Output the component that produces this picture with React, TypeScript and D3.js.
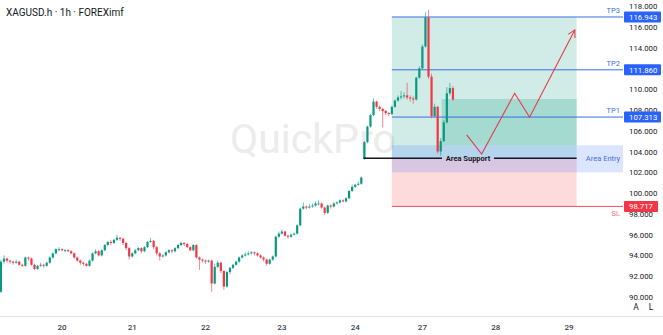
import React from 'react';
import * as d3 from 'd3';

const opens = [
  90.5,93.4,93.7,93.5,93.4,93.3,93.4,93.1,93.0,93.8,
  93.7,93.1,92.7,93.0,93.1,93.0,93.3,93.8,94.2,94.6,
  94.6,94.5,94.5,94.4,94.2,93.8,93.5,93.3,93.2,93.0,
  93.5,94.2,94.4,94.0,94.5,95.0,95.3,95.2,95.5,95.7,
  95.6,95.2,94.7,93.9,94.2,94.5,94.7,94.4,94.8,95.3,
  95.4,94.8,94.2,93.9,94.0,94.3,94.5,94.4,94.7,95.0,
  95.2,95.1,94.8,94.5,95.0,93.8,93.6,93.5,93.4,93.5,
  91.3,92.9,93.3,92.5,91.0,92.4,92.8,93.1,93.4,93.8,
  94.0,94.1,94.2,94.3,94.2,94.0,93.8,93.6,93.2,93.6,
  93.9,95.8,96.1,96.3,95.9,95.8,96.0,96.1,96.9,98.5,
  98.7,98.6,98.7,98.8,99.0,99.0,98.6,98.1,98.8,98.7,
  99.0,99.1,99.3,99.2,99.5,100.2,100.6,100.8,100.9,103.3,
  104.9,106.4,107.5,108.8,108.3,108.1,107.9,107.7,107.6,108.3,
  108.9,109.2,109.3,109.4,109.2,109.1,109.0,111.1,112.0,114.1,
  116.9,111.2,107.4,108.3,104.0,105.0,106.8,109.6,110.1,
];
const closes = [
  93.4,93.7,93.5,93.4,93.3,93.4,93.1,93.0,93.8,93.7,
  93.1,92.7,93.0,93.1,93.0,93.3,93.8,94.2,94.6,94.6,
  94.5,94.5,94.4,94.2,93.8,93.5,93.3,93.2,93.0,93.5,
  94.2,94.4,94.0,94.5,95.0,95.3,95.2,95.5,95.7,95.6,
  95.2,94.7,93.9,94.2,94.5,94.7,94.4,94.8,95.3,95.4,
  94.8,94.2,93.9,94.0,94.3,94.5,94.4,94.7,95.0,95.2,
  95.1,94.8,94.5,95.0,93.8,93.6,93.5,93.4,93.5,91.3,
  92.9,93.3,92.5,91.0,92.4,92.8,93.1,93.4,93.8,94.0,
  94.1,94.2,94.3,94.2,94.0,93.8,93.6,93.2,93.6,93.9,
  95.8,96.1,96.3,95.9,95.8,96.0,96.1,96.9,98.5,98.7,
  98.6,98.7,98.8,99.0,99.0,98.6,98.1,98.8,98.7,99.0,
  99.1,99.3,99.2,99.5,100.2,100.6,100.8,100.9,101.5,104.9,
  106.4,107.5,108.8,108.3,108.1,107.9,107.7,107.6,108.3,108.9,
  109.2,109.3,109.4,109.2,109.1,109.0,111.1,112.0,114.1,116.9,
  111.2,107.4,108.3,104.0,105.0,106.8,109.6,110.1,109.0,
];
const highs = [
  93.6,94.0,93.8,93.6,93.5,93.6,93.5,93.2,93.9,93.9,
  93.8,93.2,93.1,93.3,93.2,93.4,93.9,94.3,94.7,94.8,
  94.7,94.6,94.6,94.5,94.3,93.9,93.6,93.4,93.3,93.6,
  94.3,94.6,94.5,94.6,95.1,95.4,95.5,95.6,96.0,95.8,
  95.7,95.3,94.8,94.3,94.6,94.8,94.8,94.9,95.4,95.7,
  95.5,94.9,94.3,94.1,94.4,94.6,94.6,94.8,95.1,95.3,
  95.3,95.2,94.9,95.1,95.1,93.9,93.7,93.6,93.6,93.6,
  93.2,93.5,93.4,92.6,92.5,92.9,93.2,93.5,93.9,94.1,
  94.3,94.4,94.4,94.4,94.3,94.1,93.9,93.7,93.7,94.0,
  95.9,96.3,96.5,96.4,96.0,96.1,96.2,97.0,98.6,99.1,
  98.8,98.9,99.0,99.2,99.3,99.1,98.7,98.9,98.9,99.1,
  99.2,99.4,99.4,99.6,100.3,100.8,100.9,101.1,101.6,105.0,
  106.5,107.6,109.1,108.9,108.4,108.2,108.0,107.8,108.4,109.0,
  109.4,109.8,109.7,110.6,109.4,109.3,111.2,112.2,114.3,117.4,
  117.6,111.5,108.6,108.4,105.3,107.0,110.2,110.6,110.3,
];
const lows = [
  90.4,93.2,93.3,93.2,93.1,93.2,93.0,92.9,92.9,93.5,
  93.0,92.6,92.6,92.9,92.8,92.9,93.2,93.7,94.1,94.4,
  94.4,94.3,94.3,94.1,93.7,93.4,93.1,93.0,92.9,92.9,
  93.4,94.1,93.9,93.9,94.4,94.9,95.0,95.1,95.4,95.4,
  95.0,94.5,93.6,93.8,94.1,94.4,94.2,94.3,94.7,95.2,
  94.6,94.0,93.5,93.8,93.9,94.2,94.2,94.3,94.6,94.9,
  94.9,94.7,94.4,94.4,93.7,92.6,93.3,93.2,93.3,90.5,
  91.2,92.8,92.3,90.7,90.9,92.2,92.7,93.0,93.3,93.7,
  93.9,94.0,94.1,94.0,93.9,93.7,93.4,93.0,93.1,93.5,
  93.8,95.7,96.0,95.8,95.6,95.7,95.9,96.0,96.8,98.4,
  98.4,98.5,98.6,98.7,98.8,98.5,97.9,98.0,98.5,98.6,
  98.9,99.0,99.1,99.1,99.4,100.1,100.5,100.7,100.8,103.2,
  104.8,106.3,107.4,108.1,107.9,106.3,107.5,107.4,107.5,108.2,
  108.8,109.0,109.1,109.0,108.8,108.6,108.9,111.0,111.9,114.0,
  111.0,107.2,107.3,103.8,103.6,104.9,106.7,109.4,108.9,
];

const dayTickIdx = [20, 43, 67, 92, 116, 138, 162, 186];
const dayLabels = ['20', '21', '22', '23', '24', '27', '28', '29'];
const priceTicks = [90, 92, 94, 96, 98, 100, 102, 104, 106, 108, 110, 112, 114, 116, 118];

const tpLevels = [116.943, 111.86, 107.313];
const tpNames = ['TP3', 'TP2', 'TP1'];
const slLevel = 98.717;
const supportLevel = 103.35;
const entryTop = 104.6;
const entryBottom = 102.0;
const innerBoxTop = 109.05;
const boxStartIdx = 128;
const boxEndIdx = 188.5;
const innerBoxStartIdx = 144.3;
const supportStartIdx = 118.7;

const arrowIdx = [152.5, 157.4, 168.2, 173.1, 187.9];
const arrowPrice = [105.6, 103.75, 109.6, 107.3, 115.7];

const W = 663, H = 335;
const plotRight = 623;
const FONT = "Roboto, 'Liberation Sans', Arial, sans-serif";
const UP = '#089981', DOWN = '#f23645', BLUE = '#2962ff';

export default function App() {
  const x = d3.scaleLinear().domain([20, 186]).range([62, 569]);
  const y = d3.scaleLinear().domain([90, 118]).range([297, 6]);

  const bx0 = x(boxStartIdx), bx1 = x(boxEndIdx);
  const line = d3.line<number>().x((_, i) => x(arrowIdx[i])).y((_, i) => y(arrowPrice[i]));
  const pts = arrowIdx.map((v, i) => [x(v), y(arrowPrice[i])]);
  const [ex, ey] = pts[pts.length - 1];
  const [px, py] = pts[pts.length - 2];
  const ang = Math.atan2(ey - py, ex - px);
  const head = [ang + Math.PI - 0.5, ang + Math.PI + 0.5].map(a => [ex + 8 * Math.cos(a), ey + 8 * Math.sin(a)]);

  const supY = y(supportLevel);
  const labelL = 442, labelR = 494;

  return (
    <svg width={W} height={H} style={{ position: 'absolute', left: 0, top: 0, background: '#fff' }} fontFamily={FONT}>
      <rect x={0} y={0} width={W} height={H} fill="#fff" />
      <text x={230} y={153} fontSize={41} fill="#ececec" fontFamily={FONT}>QuickPro</text>

      {/* position boxes */}
      <rect x={bx0} y={y(tpLevels[0])} width={bx1 - bx0} height={supY - y(tpLevels[0])} fill="rgba(8,153,129,0.19)" />
      <rect x={x(innerBoxStartIdx)} y={y(innerBoxTop)} width={bx1 - x(innerBoxStartIdx)} height={y(entryTop) - y(innerBoxTop)} fill="rgba(8,153,129,0.22)" />
      <rect x={bx0} y={supY} width={bx1 - bx0} height={y(slLevel) - supY} fill="rgba(242,54,69,0.18)" />
      <rect x={bx0} y={y(entryTop)} width={plotRight - bx0} height={y(entryBottom) - y(entryTop)} fill="rgba(41,98,255,0.17)" />
      <text x={603} y={y((entryTop + entryBottom) / 2) + 2.5} fontSize={7.5} fill="#4a6fd8" textAnchor="middle">Area Entry</text>

      {/* TP / SL lines */}
      {tpLevels.map((lv, i) => (
        <g key={lv}>
          <line x1={bx0} x2={plotRight} y1={y(lv)} y2={y(lv)} stroke="#3a6fe0" strokeWidth={1} />
          <text x={620} y={y(lv) - 4} fontSize={7.5} fill="#3a6fe0" textAnchor="end">{tpNames[i]}</text>
        </g>
      ))}
      <line x1={bx0} x2={plotRight} y1={y(slLevel)} y2={y(slLevel)} stroke="#e8505c" strokeWidth={1} />
      <text x={620} y={y(slLevel) + 10} fontSize={7.5} fill="#ee7a85" textAnchor="end">SL</text>

      {/* candles */}
      {closes.map((c, i) => {
        const o = opens[i];
        const col = c >= o ? UP : DOWN;
        const cx = x(i);
        const top = y(Math.max(o, c));
        const bot = y(Math.min(o, c));
        return (
          <g key={i}>
            <line x1={cx} x2={cx} y1={y(highs[i])} y2={y(lows[i])} stroke={col} strokeWidth={0.8} opacity={0.75} />
            <rect x={cx - 1.1} y={top} width={2.2} height={Math.max(0.9, bot - top)} fill={col} />
          </g>
        );
      })}

      {/* area support */}
      <line x1={x(supportStartIdx)} x2={labelL} y1={supY} y2={supY} stroke="#131722" strokeWidth={1.3} />
      <line x1={labelR} x2={bx1} y1={supY} y2={supY} stroke="#131722" strokeWidth={1.3} />
      <text x={(labelL + labelR) / 2} y={supY + 2.7} fontSize={7.5} fontWeight="bold" fill="#131722" textAnchor="middle">Area Support</text>

      {/* projection arrow */}
      <path d={line(arrowIdx) || ''} fill="none" stroke="#e23b49" strokeWidth={1.1} />
      <path d={`M${head[0][0]},${head[0][1]}L${ex},${ey}L${head[1][0]},${head[1][1]}`} fill="none" stroke="#e23b49" strokeWidth={1.1} />

      {/* price axis */}
      {priceTicks.map(t => (
        <text key={t} x={629} y={y(t) + 3} fontSize={7.8} fill="#131722">{t.toFixed(3)}</text>
      ))}
      {tpLevels.map(lv => (
        <g key={'b' + lv}>
          <rect x={624} y={y(lv) - 5.5} width={37} height={11} fill={BLUE} rx={1} />
          <text x={629} y={y(lv) + 3} fontSize={7.8} fill="#fff">{lv.toFixed(3)}</text>
        </g>
      ))}
      <rect x={624} y={y(slLevel) - 5.5} width={34} height={11} fill={DOWN} rx={1} />
      <text x={629} y={y(slLevel) + 3} fontSize={7.8} fill="#fff">{slLevel.toFixed(3)}</text>

      {/* bottom */}
      <line x1={0} x2={W} y1={316.5} y2={316.5} stroke="#e0e3eb" strokeWidth={1} />
      <text x={636} y={310} fontSize={8.5} fill="#131722" textAnchor="middle">A</text>
      <text x={651} y={310} fontSize={8.5} fill="#131722" textAnchor="middle">L</text>
      {dayTickIdx.map((d, i) => (
        <text key={d} x={x(d)} y={330} fontSize={8} fontWeight={500} fill="#3a3e4a" textAnchor="middle">{dayLabels[i]}</text>
      ))}

      <text x={6} y={16} fontSize={10} fill="#131722">XAGUSD.h · 1h · FOREXimf</text>
    </svg>
  );
}
